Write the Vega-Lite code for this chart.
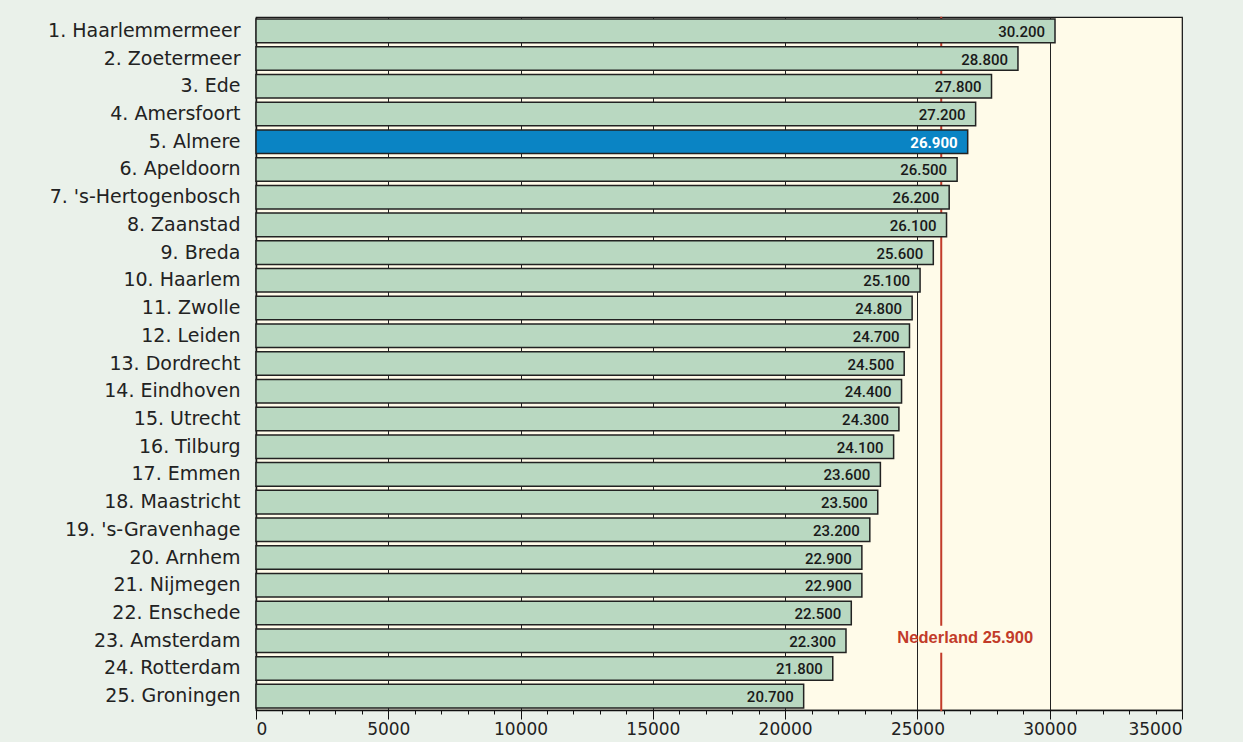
{
  "$schema": "https://vega.github.io/schema/vega-lite/v6.json",
  "width": 926,
  "height": 693,
  "autosize": "none",
  "padding": {"left": 256, "top": 17, "right": 61, "bottom": 32},
  "background": "#eaf1ea",
  "config": {
    "view": {"fill": "#fffbe9", "stroke": "#1a1a1a", "strokeWidth": 1.2},
    "font": "DejaVu Sans",
    "locale": {"number": {"decimal": ",", "thousands": ".", "grouping": [3], "currency": ["€", ""]}}
  },
  "datasets": {
    "cities": [
      {"city": "1. Haarlemmermeer", "value": 30200},
      {"city": "2. Zoetermeer", "value": 28800},
      {"city": "3. Ede", "value": 27800},
      {"city": "4. Amersfoort", "value": 27200},
      {"city": "5. Almere", "value": 26900},
      {"city": "6. Apeldoorn", "value": 26500},
      {"city": "7. 's-Hertogenbosch", "value": 26200},
      {"city": "8. Zaanstad", "value": 26100},
      {"city": "9. Breda", "value": 25600},
      {"city": "10. Haarlem", "value": 25100},
      {"city": "11. Zwolle", "value": 24800},
      {"city": "12. Leiden", "value": 24700},
      {"city": "13. Dordrecht", "value": 24500},
      {"city": "14. Eindhoven", "value": 24400},
      {"city": "15. Utrecht", "value": 24300},
      {"city": "16. Tilburg", "value": 24100},
      {"city": "17. Emmen", "value": 23600},
      {"city": "18. Maastricht", "value": 23500},
      {"city": "19. 's-Gravenhage", "value": 23200},
      {"city": "20. Arnhem", "value": 22900},
      {"city": "21. Nijmegen", "value": 22900},
      {"city": "22. Enschede", "value": 22500},
      {"city": "23. Amsterdam", "value": 22300},
      {"city": "24. Rotterdam", "value": 21800},
      {"city": "25. Groningen", "value": 20700}
    ],
    "nl": [
      {"label": "Nederland 25.900", "value": 25900, "start": "1. Haarlemmermeer", "gap": "23. Amsterdam", "end": "25. Groningen"}
    ]
  },
  "resolve": {"axis": {"x": "independent"}},
  "layer": [
    {
      "data": {"name": "nl"},
      "mark": {"type": "rule", "color": "#c23b2a", "strokeWidth": 2, "yOffset": -14, "y2Offset": -15},
      "encoding": {
        "x": {
          "field": "value", "type": "quantitative",
          "scale": {"domain": [0, 35000], "nice": false, "zero": true},
          "axis": {
            "orient": "bottom",
            "values": [0,1000,2000,3000,4000,5000,6000,7000,8000,9000,10000,11000,12000,13000,14000,15000,16000,17000,18000,19000,20000,21000,22000,23000,24000,25000,26000,27000,28000,29000,30000,31000,32000,33000,34000,35000],
            "labels": false, "domain": false, "grid": false, "ticks": true,
            "tickSize": 4, "tickColor": "#111", "tickWidth": 1, "title": null
          }
        },
        "y": {"field": "start", "type": "nominal"},
        "y2": {"field": "gap"}
      }
    },
    {
      "data": {"name": "nl"},
      "mark": {"type": "rule", "color": "#c23b2a", "strokeWidth": 2, "yOffset": 12, "y2Offset": 15},
      "encoding": {
        "x": {"field": "value", "type": "quantitative", "axis": null},
        "y": {"field": "gap", "type": "nominal"},
        "y2": {"field": "end"}
      }
    },
    {
      "data": {"name": "cities"},
      "mark": {"type": "bar", "stroke": "#222222", "strokeWidth": 1.5},
      "encoding": {
        "x": {
          "field": "value", "type": "quantitative",
          "axis": {
            "orient": "bottom",
            "values": [0, 5000, 10000, 15000, 20000, 25000, 30000, 35000],
            "format": "d", "title": null, "grid": true, "gridColor": "#222222", "gridWidth": 1, "gridOpacity": 1,
            "tickSize": 9, "tickColor": "#111", "domainColor": "#111", "domainWidth": 1.5,
            "labelFontSize": 17, "labelColor": "#222", "labelPadding": 2, "labelFont": "DejaVu Sans"
          }
        },
        "y": {
          "field": "city", "type": "nominal",
          "scale": {
            "domain": ["1. Haarlemmermeer", "2. Zoetermeer", "3. Ede", "4. Amersfoort", "5. Almere", "6. Apeldoorn", "7. 's-Hertogenbosch", "8. Zaanstad", "9. Breda", "10. Haarlem", "11. Zwolle", "12. Leiden", "13. Dordrecht", "14. Eindhoven", "15. Utrecht", "16. Tilburg", "17. Emmen", "18. Maastricht", "19. 's-Gravenhage", "20. Arnhem", "21. Nijmegen", "22. Enschede", "23. Amsterdam", "24. Rotterdam", "25. Groningen"],
            "paddingInner": 0.15, "paddingOuter": 0.075
          },
          "axis": {
            "title": null, "ticks": false, "domain": true, "domainColor": "#111", "domainWidth": 1.5,
            "labelFontSize": 19, "labelColor": "#222", "labelPadding": 16, "labelLimit": 0, "labelFont": "DejaVu Sans"
          }
        },
        "fill": {
          "condition": {"test": "datum.city === '5. Almere'", "value": "#0a84c4"},
          "value": "#b9d8c1"
        }
      }
    },
    {
      "data": {"name": "cities"},
      "transform": [{"filter": "datum.city !== '5. Almere'"}],
      "mark": {"type": "text", "align": "right", "baseline": "middle", "dx": -10, "dy": 1, "font": "Roboto", "fontSize": 15, "fontWeight": 500, "color": "#1a1a1a"},
      "encoding": {
        "x": {"field": "value", "type": "quantitative", "axis": null},
        "y": {"field": "city", "type": "nominal"},
        "text": {"field": "value", "type": "quantitative", "format": ",d"}
      }
    },
    {
      "data": {"name": "cities"},
      "transform": [{"filter": "datum.city === '5. Almere'"}],
      "mark": {"type": "text", "align": "right", "baseline": "middle", "dx": -10, "dy": 1, "font": "Roboto", "fontSize": 15, "fontWeight": "bold", "color": "#ffffff"},
      "encoding": {
        "x": {"field": "value", "type": "quantitative", "axis": null},
        "y": {"field": "city", "type": "nominal"},
        "text": {"field": "value", "type": "quantitative", "format": ",d"}
      }
    },
    {
      "data": {"name": "nl"},
      "mark": {"type": "text", "align": "center", "baseline": "middle", "dx": 24, "dy": -3, "font": "Liberation Sans", "fontSize": 16.5, "fontWeight": "bold", "color": "#c23b2a"},
      "encoding": {
        "x": {"field": "value", "type": "quantitative", "axis": null},
        "y": {"field": "gap", "type": "nominal"},
        "text": {"field": "label"}
      }
    }
  ]
}
